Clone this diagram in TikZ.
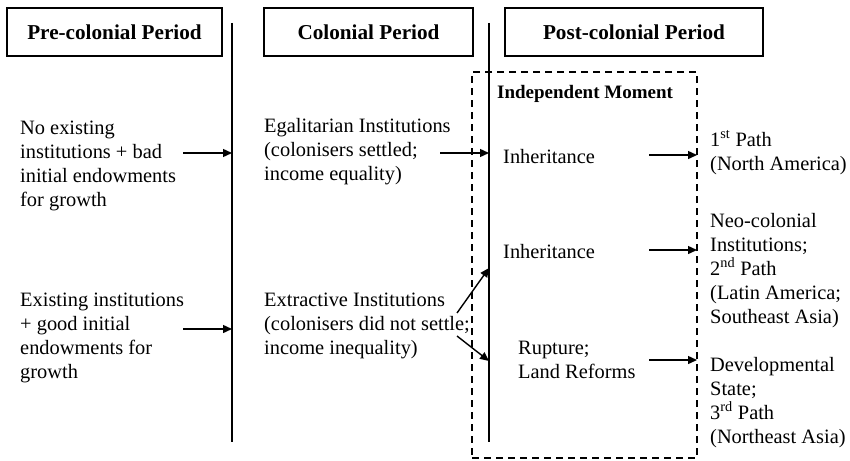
\documentclass[tikz,border=0pt]{standalone}
\usepackage{fontspec}
\setmainfont{Liberation Serif}
\usetikzlibrary{arrows.meta}
\begin{document}
\begin{tikzpicture}[x=1pt,y=-1pt,
  txt/.style={font=\fontsize{20.4}{24}\selectfont, align=left, inner sep=0pt, anchor=base west},
  hdr/.style={draw, line width=1.5pt, minimum height=48pt, inner sep=0pt, font=\bfseries\fontsize{21.2}{24}\selectfont},
  arr/.style={-{Triangle[length=9pt,width=8pt]}, line width=1.4pt},
  vline/.style={line width=1.6pt},
  dbox/.style={draw, line width=1.8pt, dash pattern=on 7pt off 5pt, inner sep=0pt}]
\useasboundingbox (0,0) rectangle (850,460);
% headers
\node[hdr, minimum width=215pt] (h1) at (114.5,32) {Pre-colonial Period};
\node[hdr, minimum width=209pt] (h2) at (368.5,32) {Colonial Period};
\node[hdr, minimum width=258pt] (h3) at (634,32) {Post-colonial Period};
% independent moment box
\node[dbox, minimum width=225pt, minimum height=386pt] (indep) at (584.5,265) {};
\node[txt, font=\bfseries\fontsize{19}{24}\selectfont] (im) at (497,98) {Independent Moment};
% vertical lines
\coordinate (v1t) at (232,23); \coordinate (v1b) at (232,442);
\coordinate (v2t) at (489,23); \coordinate (v2b) at (489,442);
\draw[vline] (v1t) -- (v1b);
\draw[vline] (v2t) -- (v2b);
% texts (anchored at the baseline of their last line)
\node[txt] (preA) at (20,206) {No existing\\institutions + bad\\initial endowments\\for growth};
\node[txt] (preB) at (20,378) {Existing institutions\\+ good initial\\endowments for\\growth};
\node[txt] (colA) at (264,180) {Egalitarian Institutions\\(colonisers settled;\\income equality)};
\node[txt] (colB) at (264,354) {Extractive Institutions\\(colonisers did not settle;\\income inequality)};
\node[txt] (inh1) at (503,163) {Inheritance};
\node[txt] (inh2) at (503,258) {Inheritance};
\node[txt] (rup) at (518,378) {Rupture;\\Land Reforms};
\node[txt] (p1) at (710,170) {1\textsuperscript{st} Path\\(North America)};
\node[txt] (p2) at (710,323) {Neo-colonial\\Institutions;\\2\textsuperscript{nd} Path\\(Latin America;\\Southeast Asia)};
\node[txt] (p3) at (710,443) {Developmental\\State;\\3\textsuperscript{rd} Path\\(Northeast Asia)};
% arrow coordinates
\coordinate (aAs) at (183,153); \coordinate (aAe) at (232,153);
\coordinate (aBs) at (183,329); \coordinate (aBe) at (232,329);
\coordinate (cAs) at (440,153); \coordinate (cAe) at (489,153);
\coordinate (dUs) at (457,313); \coordinate (dUe) at (489,268);
\coordinate (dDs) at (457,336); \coordinate (dDe) at (489,361);
\coordinate (e1s) at (649,155); \coordinate (e1e) at (697,155);
\coordinate (e2s) at (649,250); \coordinate (e2e) at (697,250);
\coordinate (e3s) at (649,360); \coordinate (e3e) at (697,360);
\draw[arr] (aAs) -- (aAe);
\draw[arr] (aBs) -- (aBe);
\draw[arr] (cAs) -- (cAe);
\draw[arr] (dUs) -- (dUe);
\draw[arr] (dDs) -- (dDe);
\draw[arr] (e1s) -- (e1e);
\draw[arr] (e2s) -- (e2e);
\draw[arr] (e3s) -- (e3e);
\end{tikzpicture}
\end{document}
